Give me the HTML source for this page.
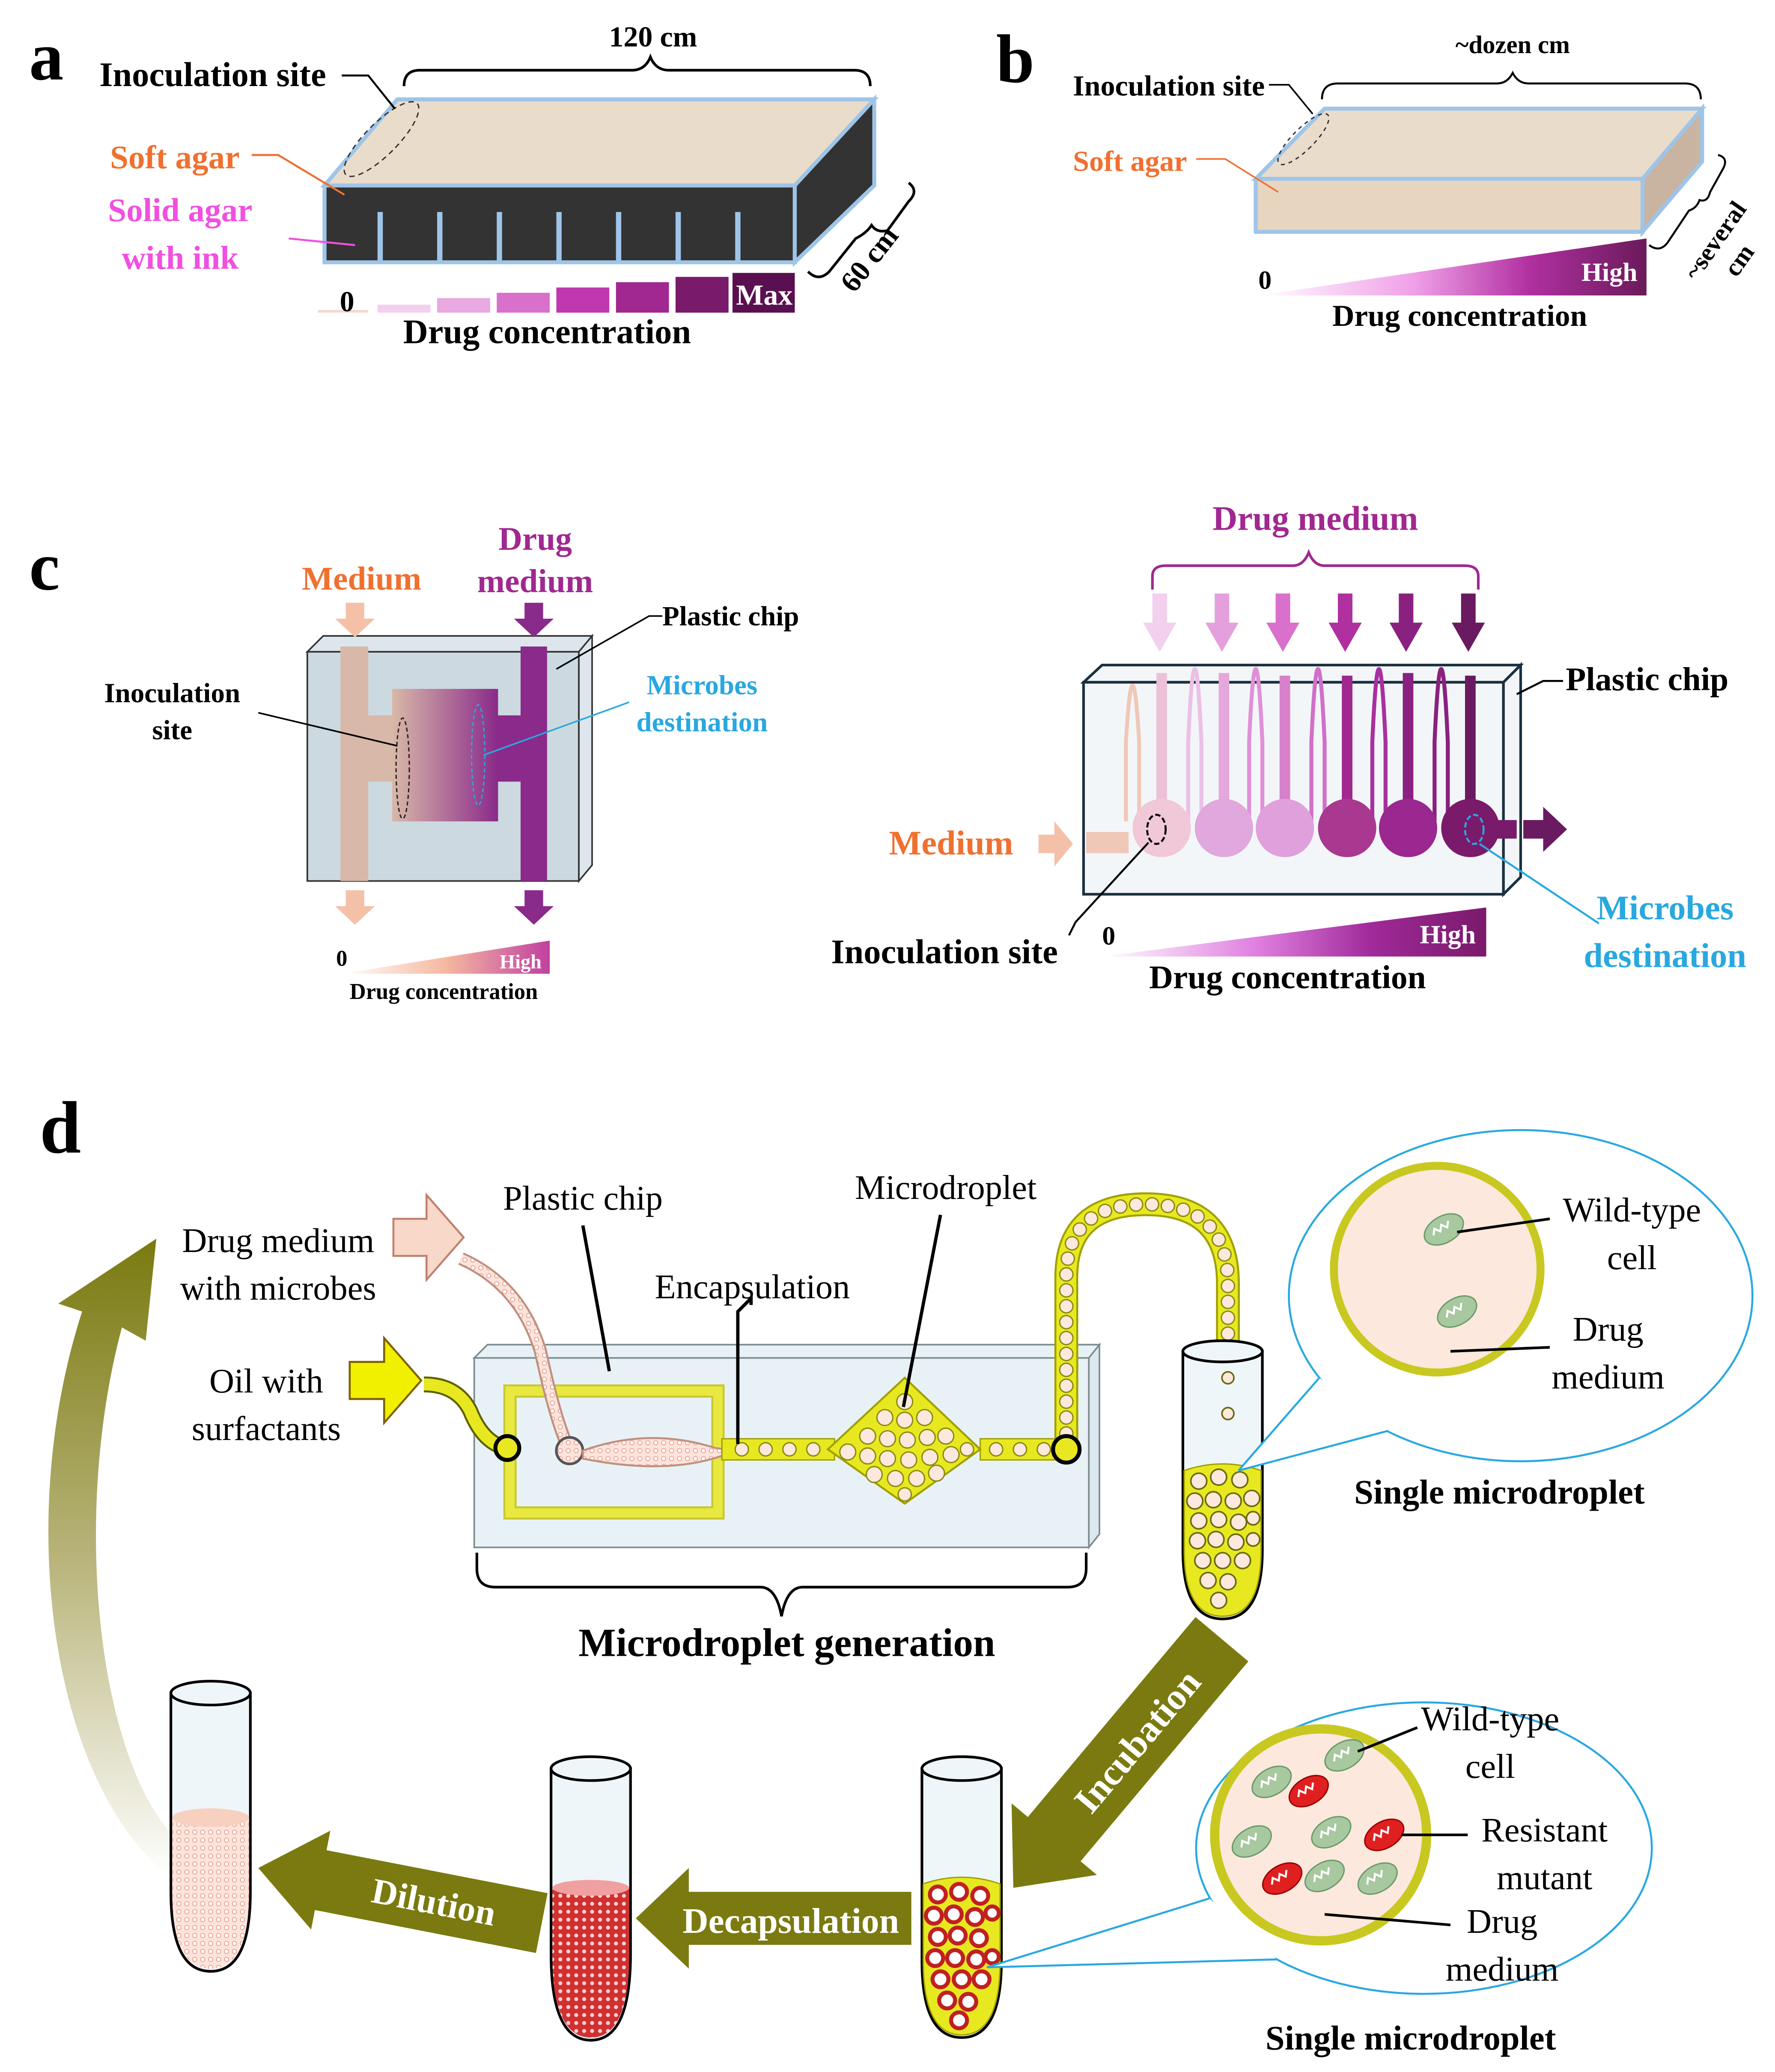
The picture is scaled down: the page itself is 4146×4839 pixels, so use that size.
<!DOCTYPE html>
<html><head><meta charset="utf-8"><style>html,body{margin:0;padding:0;background:#fff}svg{display:block}</style></head>
<body>
<svg xmlns="http://www.w3.org/2000/svg" width="4146" height="4839" viewBox="0 0 1340 1564" font-family="Liberation Serif, serif">
<defs>
<linearGradient id="gb" x1="0" x2="1"><stop offset="0" stop-color="#fff"/><stop offset=".4" stop-color="#f0a0e8"/><stop offset=".7" stop-color="#b030a0"/><stop offset="1" stop-color="#6a1a5a"/></linearGradient>
<linearGradient id="gcl" x1="0" x2="1"><stop offset="0" stop-color="#fff"/><stop offset=".5" stop-color="#f5b8a0"/><stop offset="1" stop-color="#c040a0"/></linearGradient>
<linearGradient id="gmid" x1="0" x2="1"><stop offset="0" stop-color="#d8b8a8"/><stop offset="1" stop-color="#8a2a8a"/></linearGradient>
<linearGradient id="gcr" x1="0" x2="1"><stop offset="0" stop-color="#fff"/><stop offset=".4" stop-color="#e080e0"/><stop offset=".7" stop-color="#a02a9a"/><stop offset="1" stop-color="#7a1a6a"/></linearGradient>
<linearGradient id="olv" x1="0" y1="1" x2="0" y2="0"><stop offset="0" stop-color="#fff"/><stop offset=".5" stop-color="#b8b47a"/><stop offset="1" stop-color="#7a7a10"/></linearGradient>
<pattern id="dots" width="6" height="6" patternUnits="userSpaceOnUse"><rect width="6" height="6" fill="#fbe4dc"/><circle cx="3" cy="3" r="1.6" fill="#fff" stroke="#e8a090" stroke-width=".6"/></pattern>
<pattern id="reddots" width="6" height="6" patternUnits="userSpaceOnUse"><rect width="6" height="6" fill="#d03030"/><circle cx="3" cy="3" r="1.5" fill="#f8d0d0"/></pattern>
<g id="cell"><ellipse rx="16" ry="10" fill="#a8c8a0" stroke="#6a9a6a" stroke-width="1"/><path d="M-9,0 l3,-4 l3,4 l3,-4 l3,4 l3,-4" fill="none" stroke="#fff" stroke-width="1.5"/></g>
<g id="rcell"><ellipse rx="16" ry="10" fill="#e02020" stroke="#900" stroke-width="1"/><path d="M-9,0 l3,-4 l3,4 l3,-4 l3,4 l3,-4" fill="none" stroke="#fff" stroke-width="1.5"/></g>
</defs>

<!-- Panel a -->
<text x="22" y="60" font-size="52" font-weight="bold">a</text>
<polygon points="245,140 300,75 660,75 600,140" fill="#eadccb" stroke="#9ec5e8" stroke-width="3"/>
<rect x="245" y="140" width="355" height="58" fill="#333" stroke="#9ec5e8" stroke-width="3"/>
<polygon points="600,140 660,75 660,140 600,198" fill="#333" stroke="#9ec5e8" stroke-width="3"/>
<g fill="#9ec5e8"><rect x="285" y="160" width="4" height="38"/><rect x="330" y="160" width="4" height="38"/><rect x="375" y="160" width="4" height="38"/><rect x="420" y="160" width="4" height="38"/><rect x="465" y="160" width="4" height="38"/><rect x="510" y="160" width="4" height="38"/><rect x="555" y="160" width="4" height="38"/></g>
<ellipse cx="288" cy="105" rx="12" ry="38" transform="rotate(45 288 105)" fill="none" stroke="#333" stroke-dasharray="4,3"/>
<path d="M305,65 q0,-12 12,-12 h160 q10,0 14,-10 q4,10 14,10 h140 q12,0 12,12" fill="none" stroke="#000" stroke-width="2"/>
<text x="493" y="35" font-size="22" font-weight="bold" text-anchor="middle">120 cm</text>
<path d="M610,205 q8,8 16,0 l20,-25 q8,-4 12,-10 q4,6 12,4 l16,-22 q8,-8 0,-14" fill="none" stroke="#000" stroke-width="2"/>
<text x="662" y="200" font-size="22" font-weight="bold" transform="rotate(-52 662 200)" text-anchor="middle">60 cm</text>
<text x="75" y="65" font-size="26" font-weight="bold">Inoculation site</text>
<path d="M258,57 h20 l20,25" fill="none" stroke="#000" stroke-width="1.5"/>
<text x="83" y="127" font-size="25" font-weight="bold" fill="#f07030">Soft agar</text>
<path d="M190,117 h20 l50,30" fill="none" stroke="#f07030" stroke-width="1.5"/>
<text x="136" y="167" font-size="25" font-weight="bold" fill="#f050e0" text-anchor="middle">Solid agar</text>
<text x="136" y="203" font-size="25" font-weight="bold" fill="#f050e0" text-anchor="middle">with ink</text>
<path d="M218,180 l50,5" stroke="#f050e0" stroke-width="1.5"/>
<rect x="240" y="234" width="38" height="2" fill="#f5d8cf"/>
<rect x="285" y="230" width="40" height="6" fill="#f2d0ee"/>
<rect x="330" y="225" width="40" height="11" fill="#e8a8e0"/>
<rect x="375" y="221" width="40" height="15" fill="#d870cc"/>
<rect x="420" y="217" width="40" height="19" fill="#c038b0"/>
<rect x="465" y="213" width="40" height="23" fill="#a02890"/>
<rect x="510" y="209" width="40" height="27" fill="#7a1a6a"/>
<rect x="553" y="206" width="47" height="30" fill="#5a1050"/>
<text x="577" y="230" font-size="22" font-weight="bold" fill="#fff" text-anchor="middle">Max</text>
<text x="262" y="235" font-size="22" font-weight="bold" text-anchor="middle">0</text>
<text x="413" y="259" font-size="26" font-weight="bold" text-anchor="middle">Drug  concentration</text>

<!-- Panel b -->
<text x="752" y="62" font-size="52" font-weight="bold">b</text>
<polygon points="948,135 1000,82 1285,82 1240,135" fill="#eadccb" stroke="#9ec5e8" stroke-width="3"/>
<rect x="948" y="135" width="292" height="40" fill="#e8d5c0" stroke="#9ec5e8" stroke-width="3"/>
<polygon points="1240,135 1285,82 1285,122 1240,175" fill="#c8b4a0" stroke="#9ec5e8" stroke-width="3"/>
<ellipse cx="984" cy="105" rx="8" ry="26" transform="rotate(45 984 105)" fill="none" stroke="#333" stroke-dasharray="3,3"/>
<path d="M998,75 q0,-12 12,-12 h120 q8,0 12,-8 q4,8 12,8 h118 q12,0 12,12" fill="none" stroke="#000" stroke-width="1.5"/>
<text x="1142" y="40" font-size="19" font-weight="bold" text-anchor="middle">~dozen cm</text>
<text x="810" y="72" font-size="22" font-weight="bold">Inoculation site</text>
<path d="M958,64 h15 l18,22" fill="none" stroke="#000" stroke-width="1.2"/>
<text x="810" y="129" font-size="22" font-weight="bold" fill="#f07030">Soft agar</text>
<path d="M903,120 h22 l40,25" fill="none" stroke="#f07030" stroke-width="1.2"/>
<path d="M1245,185 q8,6 14,-2 l16,-24 q6,-2 8,-8 q6,2 8,-6 l10,-18 q4,-8 -4,-10" fill="none" stroke="#000" stroke-width="1.5"/>
<text x="1300" y="185" font-size="19" font-weight="bold" transform="rotate(-55 1300 185)" text-anchor="middle">~several</text>
<text x="1318" y="200" font-size="19" font-weight="bold" transform="rotate(-55 1318 200)" text-anchor="middle">cm</text>
<polygon points="950,223 1243,180 1243,223" fill="url(#gb)"/>
<text x="1215" y="212" font-size="20" font-weight="bold" fill="#fff" text-anchor="middle">High</text>
<text x="955" y="218" font-size="20" font-weight="bold" text-anchor="middle">0</text>
<text x="1102" y="246" font-size="23" font-weight="bold" text-anchor="middle">Drug  concentration</text>

<!-- Panel c left -->
<text x="22" y="445" font-size="52" font-weight="bold">c</text>
<polygon points="232,492 244,480 447,480 437,492" fill="#dde6ec" stroke="#333" stroke-width="1.2"/>
<rect x="232" y="492" width="205" height="173" fill="#ccd9e0" stroke="#333" stroke-width="1.2"/>
<polygon points="437,492 447,480 447,653 437,665" fill="#dde6ec" stroke="#333" stroke-width="1.2"/>
<rect x="257" y="488" width="21" height="177" fill="#d8b8a8"/>
<rect x="393" y="488" width="20" height="177" fill="#8a2a8a"/>
<rect x="278" y="540" width="20" height="50" fill="#d8b8a8"/>
<rect x="375" y="540" width="18" height="50" fill="#8a2a8a"/>
<rect x="296" y="520" width="80" height="100" fill="url(#gmid)"/>
<ellipse cx="304" cy="580" rx="5" ry="38" fill="none" stroke="#222" stroke-dasharray="3,2"/>
<ellipse cx="361" cy="570" rx="5" ry="38" fill="none" stroke="#29a8e0" stroke-dasharray="3,2"/>
<path d="M261,455 h14 v12 h8 l-15,14 l-15,-14 h8z" fill="#f5c0a8"/>
<path d="M261,672 h14 v12 h8 l-15,14 l-15,-14 h8z" fill="#f5c0a8"/>
<path d="M396,455 h14 v12 h8 l-15,14 l-15,-14 h8z" fill="#8a2a8a"/>
<path d="M396,672 h14 v12 h8 l-15,14 l-15,-14 h8z" fill="#8a2a8a"/>
<text x="273" y="445" font-size="25" font-weight="bold" fill="#f07030" text-anchor="middle">Medium</text>
<text x="404" y="415" font-size="25" font-weight="bold" fill="#a02890" text-anchor="middle">Drug</text>
<text x="404" y="447" font-size="25" font-weight="bold" fill="#a02890" text-anchor="middle">medium</text>
<text x="500" y="472" font-size="21" font-weight="bold">Plastic chip</text>
<path d="M500,465 h-10 l-70,40" fill="none" stroke="#000" stroke-width="1.2"/>
<text x="130" y="530" font-size="21" font-weight="bold" text-anchor="middle">Inoculation</text>
<text x="130" y="558" font-size="21" font-weight="bold" text-anchor="middle">site</text>
<path d="M195,538 l105,25" stroke="#000" stroke-width="1.2"/>
<text x="530" y="524" font-size="21" font-weight="bold" fill="#29a8e0" text-anchor="middle">Microbes</text>
<text x="530" y="552" font-size="21" font-weight="bold" fill="#29a8e0" text-anchor="middle">destination</text>
<path d="M475,530 l-110,40" stroke="#29a8e0" stroke-width="1.2"/>
<polygon points="258,735 415,710 415,735" fill="url(#gcl)"/>
<text x="393" y="731" font-size="15" font-weight="bold" fill="#fff" text-anchor="middle">High</text>
<text x="258" y="729" font-size="17" font-weight="bold" text-anchor="middle">0</text>
<text x="335" y="754" font-size="17" font-weight="bold" text-anchor="middle">Drug  concentration</text>

<!-- Panel c right -->
<text x="993" y="400" font-size="26" font-weight="bold" fill="#a02890" text-anchor="middle">Drug medium</text>
<path d="M870,445 v-10 q0,-8 10,-8 h96 q8,0 12,-10 q4,10 12,10 h106 q10,0 10,8 v10" fill="none" stroke="#a02890" stroke-width="2"/>
<g>
<path d="M870,448 h11 v22 h7 l-12.5,22 l-12.5,-22 h7z" fill="#f2d0ee"/>
<path d="M917,448 h11 v22 h7 l-12.5,22 l-12.5,-22 h7z" fill="#e4a0dc"/>
<path d="M963,448 h11 v22 h7 l-12.5,22 l-12.5,-22 h7z" fill="#d870cc"/>
<path d="M1010,448 h11 v22 h7 l-12.5,22 l-12.5,-22 h7z" fill="#b030a0"/>
<path d="M1056,448 h11 v22 h7 l-12.5,22 l-12.5,-22 h7z" fill="#8a2080"/>
<path d="M1103,448 h11 v22 h7 l-12.5,22 l-12.5,-22 h7z" fill="#6a1a60"/>
</g>
<polygon points="818,515 832,502 1148,502 1135,515" fill="#f3f6f8" stroke="#1a3040" stroke-width="2"/>
<rect x="818" y="515" width="317" height="160" fill="#f3f6f8" stroke="#1a3040" stroke-width="2"/>
<polygon points="1135,515 1148,502 1148,662 1135,675" fill="#f3f6f8" stroke="#1a3040" stroke-width="2"/>
<g fill="none" stroke-width="3">
<path d="M850,620 v-60 q5,-85 10,0 v60" stroke="#f0c8b8"/>
<path d="M897,620 v-60 q5,-110 10,0 v60" stroke="#ecc0e6"/>
<path d="M943,620 v-60 q5,-110 10,0 v60" stroke="#e090d8"/>
<path d="M990,620 v-60 q5,-110 10,0 v60" stroke="#d070c8"/>
<path d="M1036,620 v-60 q5,-110 10,0 v60" stroke="#a830a0"/>
<path d="M1083,620 v-60 q5,-110 10,0 v60" stroke="#8a2080"/>
</g>
<rect x="873" y="508" width="8" height="110" fill="#ecc0d8"/>
<rect x="920" y="508" width="8" height="110" fill="#e4a8dc"/>
<rect x="966" y="510" width="8" height="110" fill="#d880cc"/>
<rect x="1013" y="510" width="8" height="110" fill="#a02890"/>
<rect x="1059" y="508" width="8" height="110" fill="#8a2080"/>
<rect x="1106" y="510" width="8" height="110" fill="#6a1a60"/>
<ellipse cx="877" cy="625" rx="22" ry="22" fill="#f0c8d8"/>
<ellipse cx="924" cy="625" rx="22" ry="22" fill="#e0a8dc"/>
<ellipse cx="970" cy="625" rx="22" ry="22" fill="#e0a0dc"/>
<ellipse cx="1017" cy="625" rx="22" ry="22" fill="#a83890"/>
<ellipse cx="1063" cy="625" rx="22" ry="22" fill="#9a2890"/>
<ellipse cx="1110" cy="625" rx="22" ry="22" fill="#7a1a6a"/>
<rect x="820" y="628" width="32" height="16" fill="#f0c8b8"/>
<rect x="1125" y="619" width="20" height="14" fill="#7a1a6a"/>
<path d="M1150,619 h15 v-10 l18,17 l-18,17 v-10 h-15z" fill="#6a1a60"/>
<path d="M784,630 h12 v-10 l14,17 l-14,17 v-10 h-12z" fill="#f5c0a8"/>
<ellipse cx="873" cy="626" rx="7" ry="11" fill="none" stroke="#000" stroke-width="1.5" stroke-dasharray="4,2"/>
<ellipse cx="1113" cy="626" rx="7" ry="11" fill="none" stroke="#29a8e0" stroke-width="1.5" stroke-dasharray="4,2"/>
<text x="718" y="645" font-size="26" font-weight="bold" fill="#f07030" text-anchor="middle">Medium</text>
<text x="1182" y="521" font-size="25" font-weight="bold">Plastic chip</text>
<path d="M1180,514 h-15 l-20,10" fill="none" stroke="#000" stroke-width="1.5"/>
<path d="M867,636 l-55,60 l-5,10" fill="none" stroke="#000" stroke-width="1.5"/>
<text x="713" y="727" font-size="26" font-weight="bold" text-anchor="middle">Inoculation site</text>
<path d="M1117,637 l90,60" stroke="#29a8e0" stroke-width="1.5"/>
<text x="1257" y="694" font-size="26" font-weight="bold" fill="#29a8e0" text-anchor="middle">Microbes</text>
<text x="1257" y="730" font-size="26" font-weight="bold" fill="#29a8e0" text-anchor="middle">destination</text>
<polygon points="832,722 1122,685 1122,722" fill="url(#gcr)"/>
<text x="1093" y="712" font-size="20" font-weight="bold" fill="#fff" text-anchor="middle">High</text>
<text x="837" y="713" font-size="20" font-weight="bold" text-anchor="middle">0</text>
<text x="972" y="746" font-size="25" font-weight="bold" text-anchor="middle">Drug  concentration</text>

<!-- Panel d -->
<text x="30" y="870" font-size="56" font-weight="bold">d</text>
<!-- big return arrow -->
<path d="M130,1418 C40,1350 10,1150 62,990 L44,984 L118,935 L110,1012 L92,1002 C55,1140 72,1320 130,1385 Z" fill="url(#olv)"/>
<!-- chip -->
<polygon points="358,1025 368,1015 830,1015 822,1025" fill="#e8f2f6" stroke="#7a8a90" stroke-width="1.2"/>
<rect x="358" y="1025" width="464" height="143" fill="#e8f2f6" stroke="#7a8a90" stroke-width="1.2"/>
<polygon points="822,1025 830,1015 830,1158 822,1168" fill="#dce8ee" stroke="#7a8a90" stroke-width="1.2"/>
<rect x="385" y="1050" width="157" height="92" fill="none" stroke="#c8c830" stroke-width="10"/>
<rect x="385" y="1050" width="157" height="92" fill="none" stroke="#e8e840" stroke-width="7"/>
<path d="M320,1045 q25,0 35,20 q10,25 28,28" fill="none" stroke="#606000" stroke-width="12"/>
<path d="M320,1045 q25,0 35,20 q10,25 28,28" fill="none" stroke="#e8e820" stroke-width="9"/>
<circle cx="383" cy="1093" r="9" fill="#e8e820" stroke="#000" stroke-width="3"/>
<path d="M264,1028 h26 v-18 l28,32 l-28,32 v-18 h-26z" fill="#f0f000" stroke="#806000" stroke-width="1.5"/>
<path d="M348,950 q45,20 60,70 q12,55 22,75" fill="none" stroke="#c09080" stroke-width="10"/>
<path d="M348,950 q45,20 60,70 q12,55 22,75" fill="none" stroke="url(#dots)" stroke-width="7"/>
<path d="M297,920 h25 v-18 l28,32 l-28,32 v-18 h-25z" fill="#f8d8c8" stroke="#c08070" stroke-width="1.5"/>
<circle cx="430" cy="1095" r="10" fill="url(#dots)" stroke="#555" stroke-width="2"/>
<path d="M440,1095 q50,-18 100,-2 l15,2 q-45,20 -115,6z" fill="url(#dots)" stroke="#c09080" stroke-width="1.5"/>
<rect x="545" y="1086" width="85" height="16" fill="#e8e820" stroke="#a0a000"/>
<rect x="740" y="1086" width="65" height="16" fill="#e8e820" stroke="#a0a000"/>
<polygon points="625,1094 683,1040 740,1094 683,1135" fill="#e8e820" stroke="#a0a000" stroke-width="1.5"/>
<g fill="#fce8dc" stroke="#8a8a10" stroke-width="1">
<circle cx="560" cy="1094" r="5"/><circle cx="578" cy="1094" r="5"/><circle cx="596" cy="1094" r="5"/><circle cx="614" cy="1094" r="5"/>
<circle cx="752" cy="1094" r="5"/><circle cx="770" cy="1094" r="5"/><circle cx="788" cy="1094" r="5"/>
<circle cx="683" cy="1058" r="6"/><circle cx="668" cy="1070" r="6"/><circle cx="683" cy="1072" r="6"/><circle cx="698" cy="1070" r="6"/>
<circle cx="655" cy="1084" r="6"/><circle cx="670" cy="1086" r="6"/><circle cx="685" cy="1087" r="6"/><circle cx="700" cy="1085" r="6"/><circle cx="714" cy="1084" r="6"/>
<circle cx="640" cy="1096" r="6"/><circle cx="655" cy="1099" r="6"/><circle cx="670" cy="1101" r="6"/><circle cx="686" cy="1102" r="6"/><circle cx="702" cy="1100" r="6"/><circle cx="718" cy="1098" r="6"/><circle cx="730" cy="1094" r="5"/>
<circle cx="660" cy="1113" r="6"/><circle cx="676" cy="1116" r="6"/><circle cx="692" cy="1116" r="6"/><circle cx="707" cy="1112" r="6"/><circle cx="683" cy="1128" r="5"/>
</g>
<!-- tube path -->
<path d="M805,1094 v-130 q0,-55 60,-55 q62,0 62,60 v56" fill="none" stroke="#a0a000" stroke-width="18"/>
<path d="M805,1094 v-130 q0,-55 60,-55 q62,0 62,60 v56" fill="none" stroke="#e8e820" stroke-width="15"/>
<path d="M805,1094 v-130 q0,-55 60,-55 q62,0 62,60 v56" fill="none" stroke="#8a8a10" stroke-width="11" stroke-linecap="round" stroke-dasharray="0 12"/>
<path d="M805,1094 v-130 q0,-55 60,-55 q62,0 62,60 v56" fill="none" stroke="#fce8dc" stroke-width="9" stroke-linecap="round" stroke-dasharray="0 12"/>
<circle cx="805" cy="1094" r="10" fill="#e8e820" stroke="#000" stroke-width="3"/>
<!-- brace -->
<path d="M360,1172 v12 q0,14 14,14 h200 q12,0 16,22 q4,-22 16,-22 h200 q14,0 14,-14 v-12" fill="none" stroke="#000" stroke-width="2"/>
<text x="594" y="1250" font-size="30" font-weight="bold" text-anchor="middle">Microdroplet generation</text>
<!-- labels -->
<text x="210" y="945" font-size="26" text-anchor="middle">Drug medium</text>
<text x="210" y="981" font-size="26" text-anchor="middle">with microbes</text>
<text x="201" y="1051" font-size="26" text-anchor="middle">Oil with</text>
<text x="201" y="1087" font-size="26" text-anchor="middle">surfactants</text>
<text x="440" y="913" font-size="26" text-anchor="middle">Plastic chip</text>
<path d="M440,925 l20,110" stroke="#000" stroke-width="2.5"/>
<text x="568" y="980" font-size="26" text-anchor="middle">Encapsulation</text>
<path d="M567,985 v-5 l-10,10 v100" fill="none" stroke="#000" stroke-width="2.5"/>
<text x="714" y="905" font-size="26" text-anchor="middle">Microdroplet</text>
<path d="M710,917 l-28,145" stroke="#000" stroke-width="2.5"/>
<!-- tube 1 -->
<path d="M893,1020 v150 q0,52 30,52 q30,0 30,-52 v-150z" fill="#eef6fa" stroke="#000" stroke-width="2"/>
<ellipse cx="923" cy="1020" rx="30" ry="8" fill="#eef6fa" stroke="#000" stroke-width="2"/>
<path d="M894,1110 q29,-10 58,0 v60 q0,50 -29,50 q-29,0 -29,-50z" fill="#e8e820" stroke="#a0a000"/>
<g fill="#fce8dc" stroke="#6a6a10" stroke-width="1.2">
<circle cx="927" cy="1040" r="4.5"/><circle cx="927" cy="1067" r="4.5"/>
<circle cx="905" cy="1118" r="6"/><circle cx="920" cy="1115" r="6"/><circle cx="936" cy="1117" r="6"/>
<circle cx="902" cy="1133" r="6"/><circle cx="916" cy="1132" r="6"/><circle cx="931" cy="1133" r="6"/><circle cx="945" cy="1131" r="6"/>
<circle cx="905" cy="1148" r="6"/><circle cx="920" cy="1147" r="6"/><circle cx="935" cy="1149" r="6"/><circle cx="946" cy="1146" r="5"/>
<circle cx="904" cy="1163" r="6"/><circle cx="918" cy="1162" r="6"/><circle cx="933" cy="1164" r="6"/><circle cx="946" cy="1162" r="5"/>
<circle cx="908" cy="1178" r="6"/><circle cx="923" cy="1178" r="6"/><circle cx="938" cy="1178" r="6"/>
<circle cx="912" cy="1193" r="6"/><circle cx="927" cy="1194" r="6"/><circle cx="920" cy="1208" r="6"/>
</g>
<!-- bubble 1 -->
<ellipse cx="1148" cy="978" rx="175" ry="125" fill="#fff" stroke="#29a8e0" stroke-width="1.5"/>
<polygon points="935,1110 996,1040 1048,1080" fill="#fff"/>
<path d="M935,1110 L996,1040 M935,1110 L1048,1080" stroke="#29a8e0" stroke-width="1.5"/>
<circle cx="1085" cy="958" r="78" fill="#fce8dc" stroke="#c8c820" stroke-width="6"/>
<use href="#cell" x="1090" y="928" transform="rotate(-30 1090 928)"/>
<use href="#cell" x="1100" y="990" transform="rotate(-30 1100 990)"/>
<path d="M1100,930 l70,-10" stroke="#000" stroke-width="2"/>
<path d="M1095,1020 l75,-3" stroke="#000" stroke-width="2"/>
<text x="1232" y="922" font-size="26" text-anchor="middle">Wild-type</text>
<text x="1232" y="958" font-size="26" text-anchor="middle">cell</text>
<text x="1214" y="1012" font-size="26" text-anchor="middle">Drug</text>
<text x="1214" y="1048" font-size="26" text-anchor="middle">medium</text>
<text x="1132" y="1135" font-size="26" font-weight="bold" text-anchor="middle">Single microdroplet</text>
<!-- incubation arrow -->
<g transform="translate(765,1425) rotate(-50)">
<path d="M0,0 L48,-42 L48,-26 L245,-26 L245,26 L48,26 L48,42 Z" fill="#7a7a10"/>
<text x="145" y="10" font-size="28" font-weight="bold" fill="#fff" text-anchor="middle">Incubation</text>
</g>
<!-- tube 3 -->
<path d="M696,1335 v145 q0,58 30,58 q30,0 30,-58 v-145z" fill="#eef6fa" stroke="#000" stroke-width="2"/>
<ellipse cx="726" cy="1335" rx="30" ry="9" fill="#eef6fa" stroke="#000" stroke-width="2"/>
<path d="M697,1422 q29,-10 58,0 v58 q0,56 -29,56 q-29,0 -29,-56z" fill="#e8e820" stroke="#a0a000"/>
<g fill="#fff" stroke="#c02020" stroke-width="3">
<circle cx="708" cy="1430" r="6"/><circle cx="724" cy="1428" r="6"/><circle cx="740" cy="1431" r="6"/>
<circle cx="705" cy="1446" r="6"/><circle cx="720" cy="1445" r="6"/><circle cx="736" cy="1447" r="6"/><circle cx="749" cy="1444" r="5"/>
<circle cx="708" cy="1462" r="6"/><circle cx="723" cy="1461" r="6"/><circle cx="739" cy="1463" r="6"/>
<circle cx="706" cy="1478" r="6"/><circle cx="721" cy="1478" r="6"/><circle cx="737" cy="1479" r="6"/><circle cx="749" cy="1477" r="5"/>
<circle cx="710" cy="1494" r="6"/><circle cx="726" cy="1494" r="6"/><circle cx="741" cy="1494" r="6"/>
<circle cx="715" cy="1510" r="6"/><circle cx="731" cy="1511" r="6"/><circle cx="724" cy="1525" r="6"/>
</g>
<!-- bubble 2 -->
<ellipse cx="1075" cy="1395" rx="172" ry="110" fill="#fff" stroke="#29a8e0" stroke-width="1.5"/>
<polygon points="745,1485 913,1433 964,1479" fill="#fff"/>
<path d="M745,1485 L913,1433 M745,1485 L964,1479" stroke="#29a8e0" stroke-width="1.5"/>
<circle cx="997" cy="1385" r="80" fill="#fce8dc" stroke="#c8c820" stroke-width="7"/>
<use href="#cell" x="960" y="1345" transform="rotate(-30 960 1345)"/>
<use href="#cell" x="1015" y="1325" transform="rotate(-30 1015 1325)"/>
<use href="#rcell" x="988" y="1352" transform="rotate(-30 988 1352)"/>
<use href="#cell" x="945" y="1390" transform="rotate(-30 945 1390)"/>
<use href="#cell" x="1005" y="1383" transform="rotate(-30 1005 1383)"/>
<use href="#rcell" x="1045" y="1385" transform="rotate(-30 1045 1385)"/>
<use href="#rcell" x="968" y="1418" transform="rotate(-30 968 1418)"/>
<use href="#cell" x="1000" y="1416" transform="rotate(-30 1000 1416)"/>
<use href="#cell" x="1040" y="1418" transform="rotate(-30 1040 1418)"/>
<path d="M1025,1322 l45,-18" stroke="#000" stroke-width="2"/>
<path d="M1058,1385 l50,0" stroke="#000" stroke-width="2"/>
<path d="M1000,1445 l95,8" stroke="#000" stroke-width="2"/>
<text x="1125" y="1306" font-size="26" text-anchor="middle">Wild-type</text>
<text x="1125" y="1342" font-size="26" text-anchor="middle">cell</text>
<text x="1166" y="1390" font-size="26" text-anchor="middle">Resistant</text>
<text x="1166" y="1426" font-size="26" text-anchor="middle">mutant</text>
<text x="1134" y="1459" font-size="26" text-anchor="middle">Drug</text>
<text x="1134" y="1495" font-size="26" text-anchor="middle">medium</text>
<text x="1065" y="1547" font-size="26" font-weight="bold" text-anchor="middle">Single microdroplet</text>
<!-- decapsulation arrow -->
<path d="M688,1428 h-168 v-18 l-40,38 l40,38 v-18 h168z" fill="#7a7a10"/>
<text x="597" y="1459" font-size="27" font-weight="bold" fill="#fff" text-anchor="middle">Decapsulation</text>
<!-- tube 2 -->
<path d="M416,1335 v140 q0,65 30,65 q30,0 30,-65 v-140z" fill="#eef6fa" stroke="#000" stroke-width="2"/>
<ellipse cx="446" cy="1335" rx="30" ry="9" fill="#eef6fa" stroke="#000" stroke-width="2"/>
<path d="M417,1425 q29,-8 58,0 v50 q0,63 -29,63 q-29,0 -29,-63z" fill="url(#reddots)"/>
<ellipse cx="446" cy="1425" rx="29" ry="6" fill="#f0a0a0"/>
<!-- dilution arrow -->
<g transform="translate(195,1410) rotate(11)">
<path d="M0,0 L48,-38 L48,-23 L218,-23 L218,23 L48,23 L48,38 Z" fill="#7a7a10"/>
<text x="135" y="9" font-size="27" font-weight="bold" fill="#fff" text-anchor="middle">Dilution</text>
</g>
<!-- tube 4 -->
<path d="M129,1278 v150 q0,60 30,60 q30,0 30,-60 v-150z" fill="#eef6fa" stroke="#000" stroke-width="2"/>
<ellipse cx="159" cy="1278" rx="30" ry="9" fill="#eef6fa" stroke="#000" stroke-width="2"/>
<path d="M130,1372 q29,-8 58,0 v56 q0,58 -29,58 q-29,0 -29,-58z" fill="url(#dots)"/>
<ellipse cx="159" cy="1372" rx="29" ry="7" fill="#f8d0c0"/>
</svg>
</body></html>
